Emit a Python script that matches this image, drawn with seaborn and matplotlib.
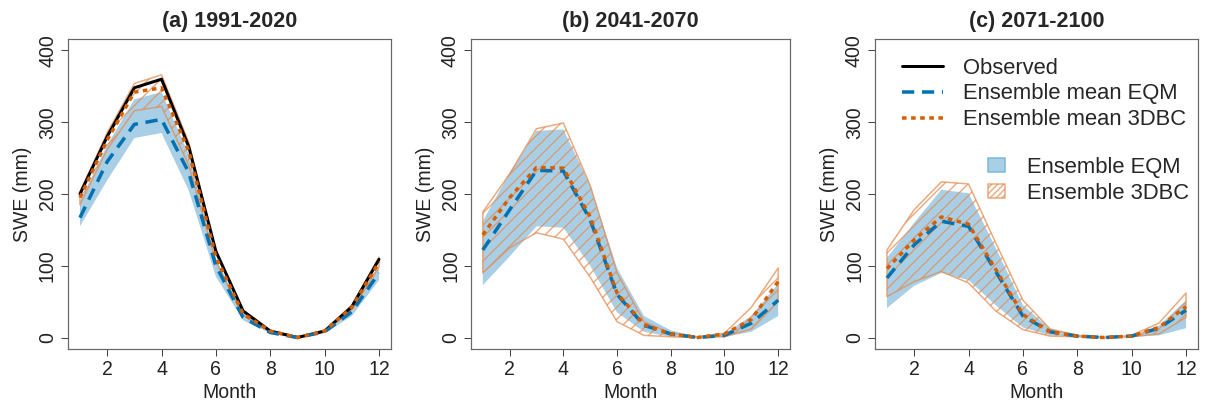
import numpy as np
import pandas as pd
import matplotlib
matplotlib.use("Agg")
import matplotlib.pyplot as plt
import seaborn as sns
from matplotlib.lines import Line2D
from matplotlib.patches import Patch

# ============================================================
# DATA (SWE in mm)
# ============================================================
months = list(range(1, 13))
titles = ["(a) 1991-2020", "(b) 2041-2070", "(c) 2071-2100"]

observed = [200, 280, 348, 360, 266, 120, 37, 9, 0, 9, 43, 109]

eqm_mean_a = [167, 245, 297, 304, 230, 100, 28, 7, 0, 8, 36, 90]
eqm_lo_a = [155, 219, 278, 285, 205, 85, 24, 6, 0, 6, 30, 80]
eqm_hi_a = [190, 268, 332, 342, 255, 110, 34, 9, 1, 9, 43, 100]
dbc_mean_a = [195, 275, 342, 348, 260, 112, 33, 9, 0, 9, 42, 105]
dbc_lo_a = [185, 262, 316, 322, 240, 105, 31, 8, 0, 8, 39, 98]
dbc_hi_a = [203, 285, 354, 366, 272, 122, 38, 10, 1, 10, 45, 112]

eqm_mean_b = [122, 178, 233, 232, 164, 60, 17, 5, 0, 3, 20, 52]
eqm_lo_b = [73, 113, 155, 153, 100, 35, 8, 1, 0, 1, 8, 30]
eqm_hi_b = [162, 230, 288, 290, 212, 97, 30, 10, 1, 5, 30, 75]
dbc_mean_b = [143, 195, 237, 236, 168, 62, 18, 5, 0, 5, 25, 78]
dbc_lo_b = [90, 125, 146, 137, 84, 22, 3, 1, 0, 1, 12, 50]
dbc_hi_b = [175, 228, 291, 299, 212, 90, 22, 6, 1, 6, 42, 97]

eqm_mean_c = [83, 129, 162, 155, 92, 30, 8, 2, 0, 2, 13, 38]
eqm_lo_c = [41, 72, 90, 80, 45, 14, 3, 1, 0, 1, 3, 13]
eqm_hi_c = [111, 160, 206, 201, 125, 45, 12, 3, 0, 2, 16, 52]
dbc_mean_c = [96, 136, 168, 158, 95, 32, 8, 2, 0, 2, 14, 43]
dbc_lo_c = [57, 78, 92, 76, 37, 11, 2, 1, 0, 1, 5, 28]
dbc_hi_c = [122, 178, 217, 214, 132, 52, 12, 3, 0, 3, 20, 62]

panels = [
    (eqm_mean_a, eqm_lo_a, eqm_hi_a, dbc_mean_a, dbc_lo_a, dbc_hi_a),
    (eqm_mean_b, eqm_lo_b, eqm_hi_b, dbc_mean_b, dbc_lo_b, dbc_hi_b),
    (eqm_mean_c, eqm_lo_c, eqm_hi_c, dbc_mean_c, dbc_lo_c, dbc_hi_c),
]

# ============================================================
# STYLE
# ============================================================
sns.set_theme(style="white")
plt.rcParams['font.family'] = ['Liberation Sans', 'DejaVu Sans']
plt.rcParams['hatch.linewidth'] = 1.4

BLUE = "#0072B2"
ORANGE = "#D55E00"
EQM_FILL = "#a8cfe6"
EQM_EDGE = "#7ab6dc"
DBC_EDGE = (0.90, 0.55, 0.32, 0.75)
FRAME = "#666666"

fig = plt.figure(figsize=(1205 / 72, 410 / 72), dpi=72)
lefts = [68, 471, 875]
widths = [323, 319, 323]

for i, (eqm_m, eqm_lo, eqm_hi, dbc_m, dbc_lo, dbc_hi) in enumerate(panels):
    ax = fig.add_axes([lefts[i] / 1205, 1 - 349 / 410, widths[i] / 1205, 310 / 410])

    ax.fill_between(months, eqm_lo, eqm_hi, facecolor=EQM_FILL, edgecolor="none", zorder=1)
    ax.fill_between(months, dbc_lo, dbc_hi, facecolor="none", edgecolor=DBC_EDGE,
                    hatch="//", linewidth=1.5, zorder=2)

    if i == 0:
        sns.lineplot(x=months, y=observed, ax=ax, color="black", linewidth=3, zorder=3)
    sns.lineplot(x=months, y=eqm_m, ax=ax, color=BLUE, linewidth=3.5,
                 linestyle=(0, (3.5, 2.2)), zorder=4)
    sns.lineplot(x=months, y=dbc_m, ax=ax, color=ORANGE, linewidth=3.5,
                 linestyle=(0, (1.3, 1.3)), zorder=5)

    ax.set_xlim(0.56, 12.44)
    ax.set_ylim(-16, 416)
    ax.set_xticks([2, 4, 6, 8, 10, 12])
    ax.set_yticks([0, 100, 200, 300, 400])
    for sp in ax.spines.values():
        sp.set_color(FRAME)
        sp.set_linewidth(1.2)
    ax.tick_params(axis="both", direction="out", length=7, width=1, color="#444444",
                   labelsize=19.5, labelcolor="#222222", bottom=True, left=True)
    ax.tick_params(axis="x", pad=4)
    ax.tick_params(axis="y", pad=4)
    for lab in ax.get_yticklabels():
        lab.set_rotation(90)
        lab.set_va("center")
    ax.set_xlabel("Month", fontsize=19.5, color="#222222", labelpad=4)
    ax.set_ylabel("SWE (mm)", fontsize=19.5, color="#222222", labelpad=6)
    ax.set_title(titles[i], fontsize=21.5, fontweight="bold", pad=12)

    if i == 2:
        line_handles = [
            Line2D([], [], color="black", linewidth=3),
            Line2D([], [], color=BLUE, linewidth=3.5, linestyle=(0, (3.5, 2.2))),
            Line2D([], [], color=ORANGE, linewidth=3.5, linestyle=(0, (1.3, 1.3))),
        ]
        leg1 = ax.legend(line_handles, ["Observed", "Ensemble mean EQM", "Ensemble mean 3DBC"],
                         loc="upper left", bbox_to_anchor=(0.084, 0.94), frameon=False,
                         fontsize=22, handlelength=1.87, handletextpad=0.9,
                         labelspacing=0.22, borderpad=0, borderaxespad=0)
        ax.add_artist(leg1)
        patch_handles = [
            Patch(facecolor=EQM_FILL, edgecolor=EQM_EDGE, linewidth=1.5),
            Patch(facecolor="white", edgecolor=DBC_EDGE, hatch="////", linewidth=1.5),
        ]
        ax.legend(patch_handles, ["Ensemble EQM", "Ensemble 3DBC"],
                  loc="upper left", bbox_to_anchor=(0.35, 0.62), frameon=False,
                  fontsize=22, handlelength=0.75, handleheight=0.6, handletextpad=1.0,
                  labelspacing=0.22, borderpad=0, borderaxespad=0)

fig.savefig("out.png", dpi=72, facecolor="white")
